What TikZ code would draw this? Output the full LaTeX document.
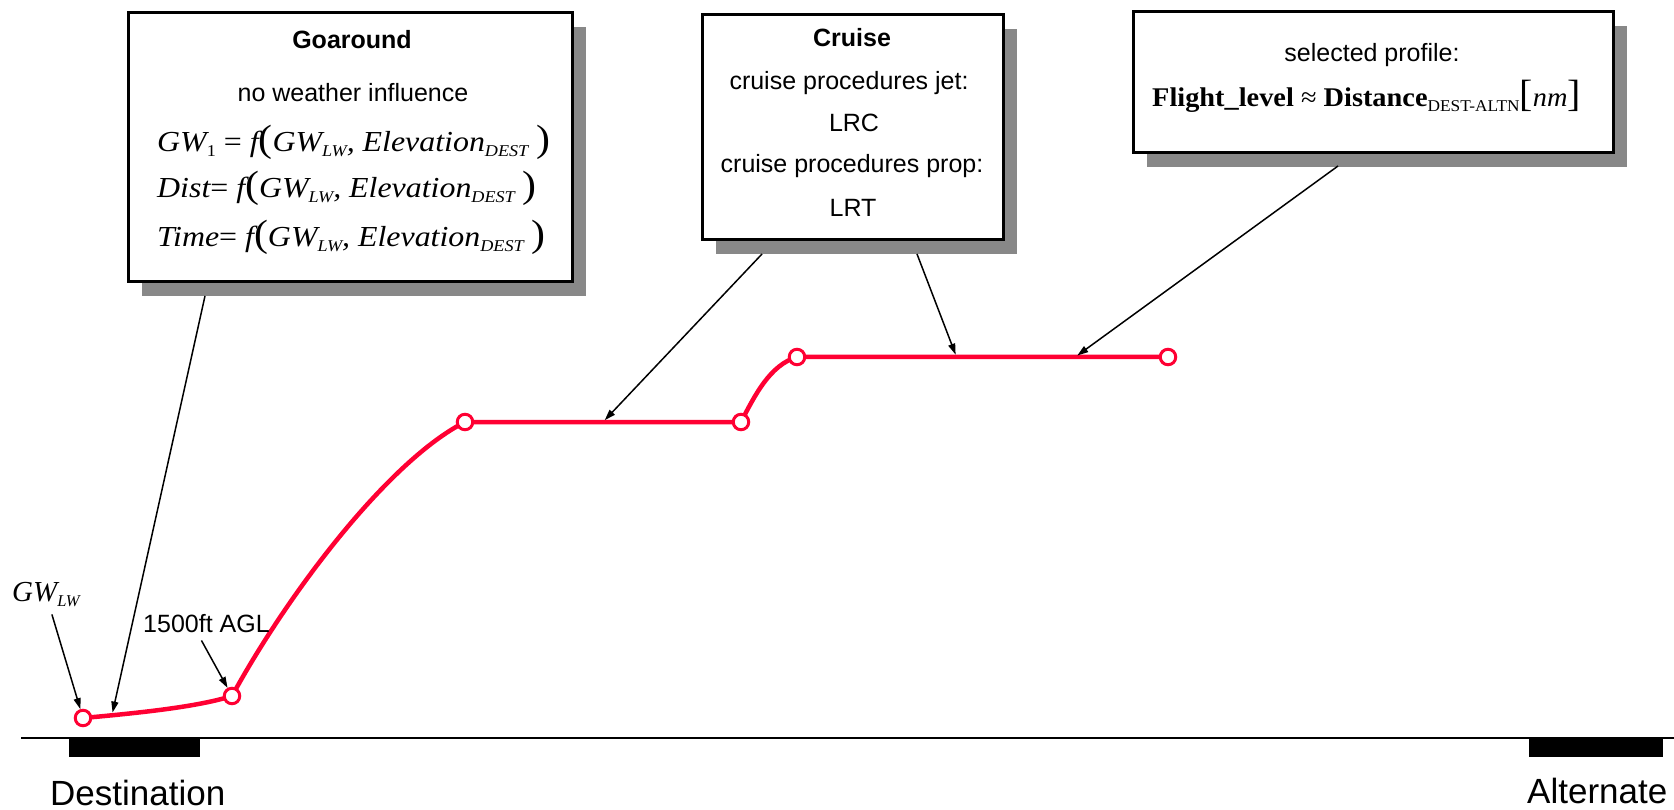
\documentclass[tikz,border=0pt]{standalone}
\usepackage{fontspec}
\setmainfont{Liberation Sans}
\newfontfamily\tms{Liberation Serif}
\usepackage{graphicx}
\usetikzlibrary{arrows.meta,calc,backgrounds}
\definecolor{profred}{RGB}{255,0,51}
\definecolor{shadowgray}{RGB}{136,136,136}
\newcommand\eqfont{\fontsize{29}{30}\selectfont\tms\itshape}
\newcommand\lsub[1]{\raisebox{-5pt}{\fontsize{16.5}{16.5}\selectfont #1}}
\newcommand\bigparen[1]{{\fontsize{38}{38}\selectfont\upshape #1}}
\begin{document}
\begin{tikzpicture}[x=1pt,y=-1pt,
  box/.style={draw=black,line width=3pt,fill=white,inner sep=0pt,outer sep=0pt},
  txt/.style={anchor=base,inner sep=0pt,font=\fontsize{25}{30}\selectfont},
  hd/.style={anchor=base,inner sep=0pt,font=\fontsize{25}{30}\selectfont\bfseries},
  eq/.style={anchor=base west,inner sep=0pt},
  pt/.style={circle,draw=profred,fill=white,line width=3pt,minimum size=15.5pt,inner sep=0pt},
  prof/.style={draw=profred,line width=4.5pt},
  arr/.style={draw=black,line width=1.5pt,-{Triangle[length=11pt,width=7pt]}},
  big/.style={anchor=base west,inner sep=0pt,font=\fontsize{35}{40}\selectfont},
]
\useasboundingbox (0,0) rectangle (1674,810);

% ground and airports
\coordinate (g0) at (21,738);
\coordinate (g1) at (1674,738);
\draw[line width=1.5pt] (g0) -- (g1);
\fill[black] (69,738) rectangle (200,757);
\fill[black] (1529,737) rectangle (1663,757);
\node[big] (dest) at (50,805) {Destination};
\node[big] (alt) at (1527,803) {Alternate};

% boxes
\node[box,minimum width=444pt,minimum height=269pt] (goa) at (350,147.5) {};
\node[box,minimum width=301pt,minimum height=225pt] (cru) at (852.5,127.5) {};
\node[box,minimum width=480pt,minimum height=141pt] (sel) at (1373,82.5) {};
\begin{scope}[on background layer]
  \foreach \b in {goa,cru,sel}{
    \fill[shadowgray] ($(\b.south west)+(14,14)$) rectangle ($(\b.north east)+(14,14)$);
  }
\end{scope}

% Goaround text
\node[hd] (goat) at (352,49) {Goaround};
\node[txt] (goanw) at (353,102) {no weather influence};
\node[eq] (e1) at (157,152) {\scalebox{1.1}[1]{\eqfont GW\lsub{\upshape 1} {\upshape =} f\bigparen{(}GW\lsub{LW}, Elevation\lsub{DEST} \bigparen{)}}};
\node[eq] (e2) at (157,198) {\scalebox{1.1}[1]{\eqfont Dist{\upshape =} f\bigparen{(}GW\lsub{LW}, Elevation\lsub{DEST} \bigparen{)}}};
\node[eq] (e3) at (157,247) {\scalebox{1.1}[1]{\eqfont Time{\upshape =} f\bigparen{(}GW\lsub{LW}, Elevation\lsub{DEST} \bigparen{)}}};

% Cruise text
\node[hd] (crut) at (852,47) {Cruise};
\node[txt] (cr1) at (849,90) {cruise procedures jet:};
\node[txt] (cr2) at (854,132) {LRC};
\node[txt] (cr3) at (852,173) {cruise procedures prop:};
\node[txt] (cr4) at (853,217) {LRT};

% selected profile text
\node[txt] (selt) at (1372,62) {selected profile:};
\node[eq] (self) at (1152,107) {\scalebox{1.05}[1]{\tms\fontsize{27}{30}\selectfont\textbf{Flight\_level} ≈ \textbf{Distance}\lsub{DEST-ALTN}\bigparen{[}\textit{nm}\bigparen{]}}};

% profile
\coordinate (c0) at (83,718);
\coordinate (c1) at (232,696);
\coordinate (c2) at (465,422);
\coordinate (c3) at (741,422);
\coordinate (c4) at (797,357);
\coordinate (c5) at (1168,357);
\draw[prof] (c0) .. controls (150,712) and (200,706) .. (c1)
  .. controls (290,590) and (390,460) .. (c2)
  -- (c3)
  .. controls (755,395) and (770,365) .. (c4)
  -- (c5);
\foreach \i in {0,...,5}{ \node[pt] (p\i) at (c\i) {}; }

% labels near destination
\node[eq] (gwlw) at (12,601) {\eqfont GW\lsub{LW}};
\node[txt,anchor=base west] (agl) at (143,632) {1500ft AGL};

% arrows
\coordinate (gaE) at (112,715);
\coordinate (crE1) at ($(c2)!0.5!(c3)$);
\coordinate (crE2) at ($(c4)!0.43!(c5)$);
\coordinate (selE) at ($(c4)!0.75!(c5)$);
\draw[arr] ($(gwlw.south)+(6,8)$) -- (p0);
\draw[arr] ($(agl.south)+(-5,8)$) -- (p1);
\draw[arr,shorten >=2.5pt] ($(goa.south west)+(77,14)$) -- (gaE);
\draw[arr,shorten >=2.5pt] ($(cru.south west)+(60,14)$) -- (crE1);
\draw[arr,shorten >=2.5pt] ($(cru.south west)+(215,14)$) -- (crE2);
\draw[arr,shorten >=2.5pt] ($(sel.south west)+(205,13)$) -- (selE);
\end{tikzpicture}
\end{document}
